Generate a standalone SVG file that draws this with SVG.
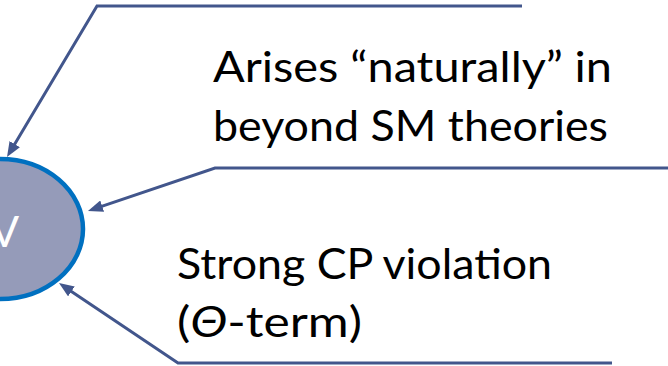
<svg xmlns="http://www.w3.org/2000/svg" width="668" height="366" viewBox="0 0 668 366">
  <style>
    .conn { fill: none; stroke: #42568C; stroke-width: 3; stroke-linejoin: miter; }
    .lbl { font-family: Lato, "Open Sans", "Liberation Sans", sans-serif; font-size: 43px; fill: #000000; }
    .node { fill: #959BB9; stroke: #0070C0; stroke-width: 4.5; }
    .nodetxt { font-family: Lato, "Open Sans", "Liberation Sans", sans-serif; font-size: 43px; fill: #FFFFFF; }
  </style>
  <defs>
    <marker id="arrow" viewBox="0 0 10 8" refX="3" refY="4" markerWidth="5" markerHeight="4" orient="auto" markerUnits="strokeWidth">
      <path d="M0,0 L10,4 L0,8 z" fill="#42568C"/>
    </marker>
  </defs>
  <rect width="668" height="366" fill="#FFFFFF"/>
  <g id="node-v">
    <ellipse class="node" cx="0" cy="229" rx="83" ry="70"/>
    <text class="nodetxt" x="19" y="247" text-anchor="end">V</text>
  </g>
  <g id="connectors">
    <polyline class="conn" points="522,6 97,6 12.4,148" marker-end="url(#arrow)"/>
    <polyline class="conn" points="668,168 215,168 97.9,207.6" marker-end="url(#arrow)"/>
    <polyline class="conn" points="612,363 178,363 67.7,288.9" marker-end="url(#arrow)"/>
  </g>
  <g id="label-bsm">
    <text class="lbl" x="213" y="82" textLength="399" lengthAdjust="spacingAndGlyphs">Arises “naturally” in</text>
    <text class="lbl" x="213" y="141" textLength="395" lengthAdjust="spacingAndGlyphs">beyond SM theories</text>
  </g>
  <g id="label-cp">
    <text class="lbl" x="177" y="279" textLength="375" lengthAdjust="spacingAndGlyphs">Strong CP violation</text>
    <text class="lbl" x="177" y="337" textLength="185" lengthAdjust="spacingAndGlyphs">(<tspan font-style="italic">Θ</tspan>-term)</text>
  </g>
</svg>
